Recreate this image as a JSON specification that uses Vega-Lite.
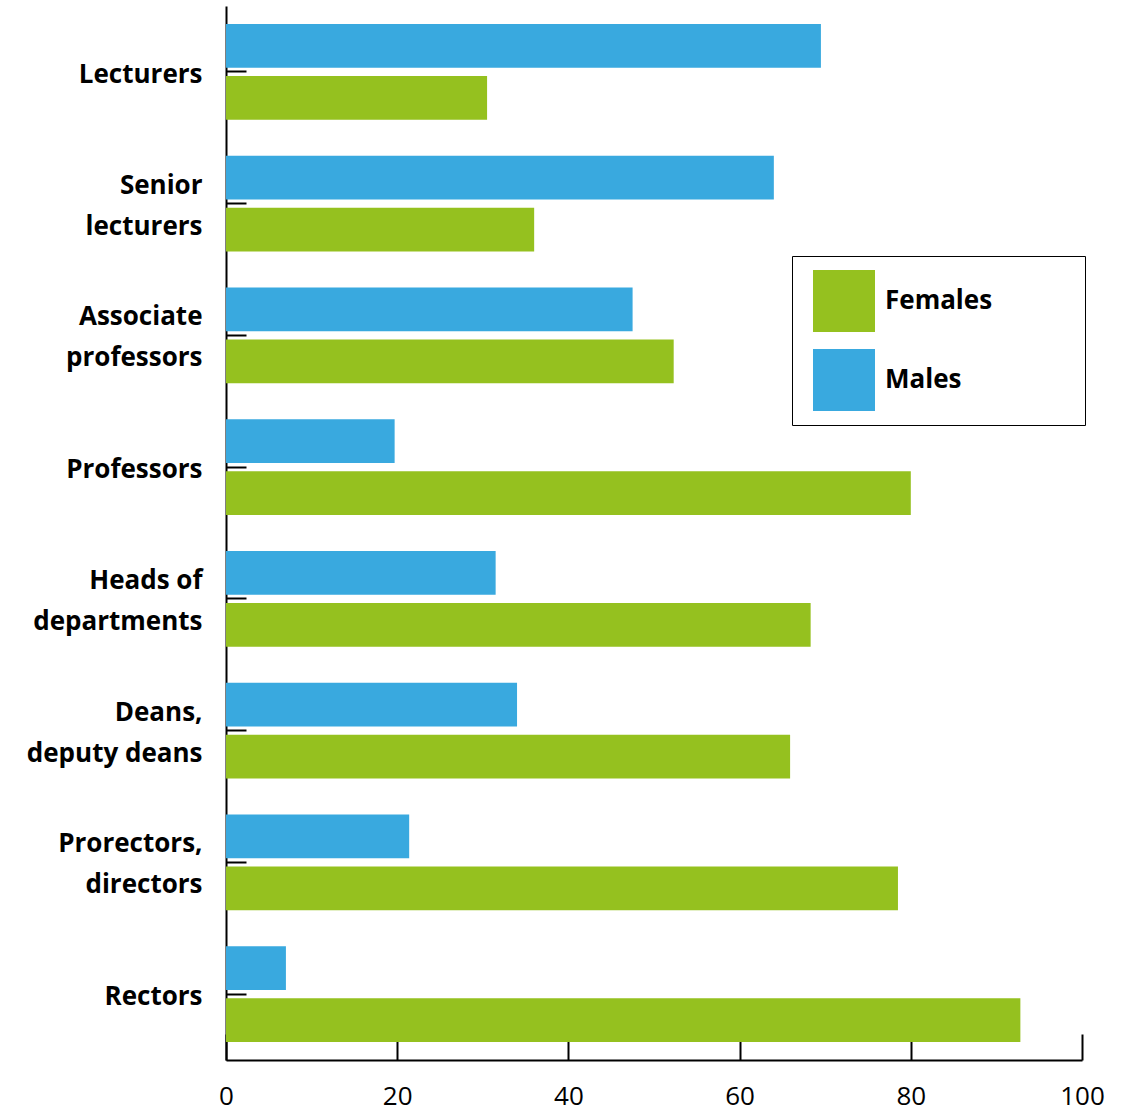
{
  "$schema": "https://vega.github.io/schema/vega-lite/v6.json",
  "autosize": {"type": "none"},
  "padding": {"left": 226, "top": 6, "right": 51, "bottom": 52},
  "width": 856,
  "height": 1054,
  "background": "white",
  "data": {
    "values": [
      {"category": "Lecturers", "gender": "Males", "value": 69.5},
      {"category": "Lecturers", "gender": "Females", "value": 30.5},
      {"category": "Senior lecturers", "gender": "Males", "value": 64},
      {"category": "Senior lecturers", "gender": "Females", "value": 36},
      {"category": "Associate professors", "gender": "Males", "value": 47.5},
      {"category": "Associate professors", "gender": "Females", "value": 52.3},
      {"category": "Professors", "gender": "Males", "value": 19.7},
      {"category": "Professors", "gender": "Females", "value": 80},
      {"category": "Heads of departments", "gender": "Males", "value": 31.5},
      {"category": "Heads of departments", "gender": "Females", "value": 68.3},
      {"category": "Deans, deputy deans", "gender": "Males", "value": 34},
      {"category": "Deans, deputy deans", "gender": "Females", "value": 65.9},
      {"category": "Prorectors, directors", "gender": "Males", "value": 21.4},
      {"category": "Prorectors, directors", "gender": "Females", "value": 78.5},
      {"category": "Rectors", "gender": "Males", "value": 7},
      {"category": "Rectors", "gender": "Females", "value": 92.8}
    ]
  },
  "mark": {"type": "bar"},
  "encoding": {
    "y": {
      "field": "category",
      "type": "nominal",
      "sort": ["Lecturers", "Senior lecturers", "Associate professors", "Professors", "Heads of departments", "Deans, deputy deans", "Prorectors, directors", "Rectors"],
      "scale": {"paddingInner": 0, "paddingOuter": 0},
      "axis": {
        "title": null,
        "domainColor": "black",
        "domainWidth": 2,
        "tickColor": "black",
        "tickWidth": 2,
        "tickSize": -20,
        "labelPadding": 44,
        "labelOffset": {
          "condition": {"test": "indexof(['Senior lecturers','Associate professors','Heads of departments','Deans, deputy deans','Prorectors, directors'], datum.value) >= 0", "value": -18},
          "value": 3
        },
        "labelFont": "Open Sans",
        "labelFontWeight": "bold",
        "labelFontSize": 26,
        "labelColor": "black",
        "labelLineHeight": 41,
        "labelLimit": 400,
        "labelExpr": "datum.value == 'Senior lecturers' ? ['Senior','lecturers'] : datum.value == 'Associate professors' ? ['Associate','professors'] : datum.value == 'Heads of departments' ? ['Heads of','departments'] : datum.value == 'Deans, deputy deans' ? ['Deans,','deputy deans'] : datum.value == 'Prorectors, directors' ? ['Prorectors,','directors'] : datum.value"
      }
    },
    "yOffset": {
      "field": "gender",
      "type": "nominal",
      "sort": ["Males", "Females"],
      "scale": {"paddingInner": 0.154, "paddingOuter": 0.344}
    },
    "x": {
      "field": "value",
      "type": "quantitative",
      "scale": {"domain": [0, 100], "nice": false},
      "axis": {
        "title": null,
        "values": [0, 20, 40, 60, 80, 100],
        "grid": false,
        "domainColor": "black",
        "domainWidth": 2,
        "tickColor": "black",
        "tickWidth": 2,
        "tickSize": -26,
        "labelPadding": 49,
        "labelFlush": false,
        "labelFont": "Open Sans",
        "labelFontSize": 26,
        "labelColor": "black"
      }
    },
    "color": {
      "field": "gender",
      "type": "nominal",
      "scale": {"domain": ["Females", "Males"], "range": ["#95C11F", "#39A9DF"]},
      "legend": {
        "title": " ",
        "titleOrient": "right",
        "titlePadding": 79,
        "orient": "none",
        "legendX": 566,
        "legendY": 250,
        "strokeColor": "black",
        "fillColor": "white",
        "padding": 14,
        "symbolType": "square",
        "symbolSize": 3844,
        "symbolOffset": 7,
        "symbolStrokeWidth": 0,
        "symbolOpacity": 1,
        "labelFont": "Open Sans",
        "labelFontWeight": "bold",
        "labelFontSize": 26,
        "labelColor": "black",
        "labelOffset": 10,
        "rowPadding": 17
      }
    }
  },
  "config": {"view": {"stroke": null}}
}
